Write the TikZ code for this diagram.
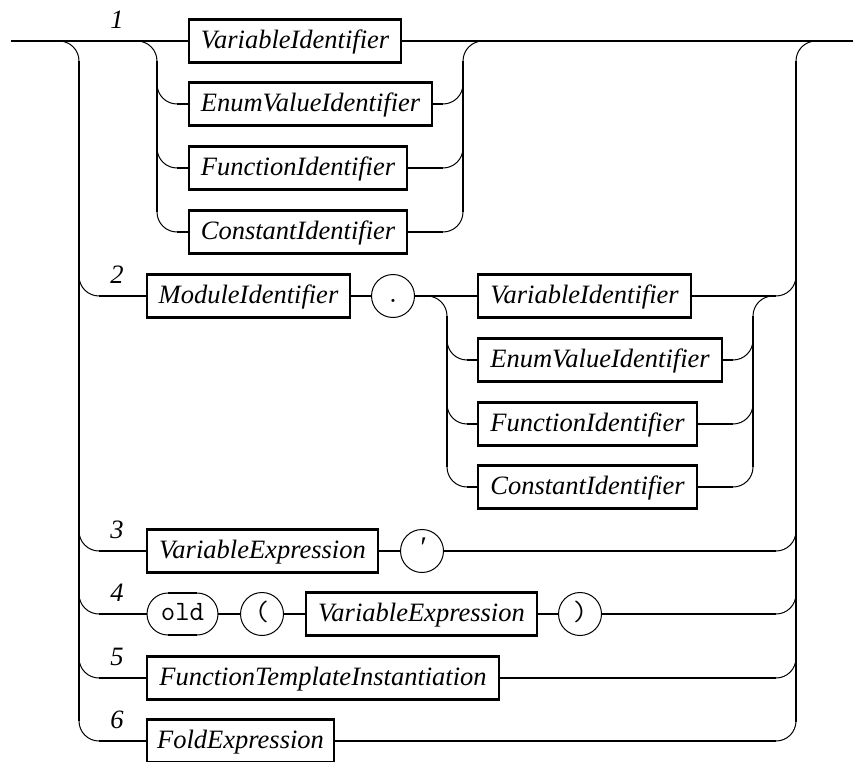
\documentclass[tikz,border=0pt]{standalone}
\usepackage{fontspec}
\setmainfont{Liberation Serif}
\begin{document}
\begin{tikzpicture}[x=1pt,y=-1pt,
  rail/.style={line width=2.4pt},
  railbend/.style={line width=1pt, rounded corners=20pt},
  nt/.style={draw, line width=2.4pt, minimum height=43pt, inner sep=0pt,
    text height=19pt, text depth=4pt,
    font=\fontsize{26.5}{30}\selectfont\itshape},
  term/.style={draw, circle, line width=1pt, minimum size=43pt, inner sep=0pt,
    text height=17pt, text depth=5pt,
    font=\fontsize{28}{30}\selectfont\ttfamily},
  altno/.style={font=\fontsize{26.5}{30}\selectfont\itshape}]
\useasboundingbox (0,0) rectangle (853,762);

% ---------- nodes ----------
% alternative 1
\node[nt, minimum width=212pt] (v1) at (295,41)    {VariableIdentifier};
\node[nt, minimum width=243pt] (e1) at (310.5,104) {EnumValueIdentifier};
\node[nt, minimum width=218pt] (f1) at (298,168)   {FunctionIdentifier};
\node[nt, minimum width=218pt] (c1) at (298,232)   {ConstantIdentifier};
% alternative 2
\node[nt, minimum width=203pt] (mod) at (248.5,296) {ModuleIdentifier};
\node[term] (dot) at (393,296) {.};
\node[nt, minimum width=213pt] (v2) at (584.5,296) {VariableIdentifier};
\node[nt, minimum width=244pt] (e2) at (600,360)   {EnumValueIdentifier};
\node[nt, minimum width=219pt] (f2) at (587.5,424) {FunctionIdentifier};
\node[nt, minimum width=219pt] (c2) at (587.5,487) {ConstantIdentifier};
% alternative 3
\node[nt, minimum width=231pt] (ve3) at (262.5,551) {VariableExpression};
\node[term, font=\fontsize{30}{30}\selectfont\itshape] (prime) at (422,551) {′};
% alternative 4
\node[draw, line width=1pt, rounded corners=21pt, minimum width=71pt, minimum height=42pt,
  inner sep=0pt, outer sep=0pt, text height=17pt, text depth=5pt,
  font=\fontsize{28}{30}\selectfont\ttfamily] (old) at (182.5,614) {old};
\draw[line width=2.4pt] ([xshift=21pt]old.north west) -- ([xshift=-21pt]old.north east);
\draw[line width=2.4pt] ([xshift=21pt]old.south west) -- ([xshift=-21pt]old.south east);
\node[term] (lp) at (262,614) {(};
\node[nt, minimum width=231pt] (ve4) at (421.5,614) {VariableExpression};
\node[term] (rp) at (580,614) {)};
% alternative 5
\node[nt, minimum width=352pt] (fti) at (323,678) {FunctionTemplateInstantiation};
% alternative 6
\node[nt, minimum width=187pt] (fold) at (240.5,741) {FoldExpression};

% alternative numbers
\node[altno] (n1) at (117,20)  {1};
\node[altno] (n2) at (117,275) {2};
\node[altno] (n3) at (117,530) {3};
\node[altno] (n4) at (117,593) {4};
\node[altno] (n5) at (117,657) {5};
\node[altno] (n6) at (117,720) {6};

% ---------- main line ----------
\coordinate (in)  at (11,41);
\coordinate (out) at (853,41);
\draw[rail] (in) -- (v1.west);
\draw[rail] (v1.east) -- (out);

% outer buses
\draw[railbend] (59,41) -| (79,61);
\draw[rail] (79,61) -- (79,721);
\draw[railbend] (796,61) |- (816,41);
\draw[rail] (796,61) -- (796,722);

% ---------- alternative 1: inner choice ----------
\draw[railbend] (137,41) -| (157,61);
\draw[rail] (157,61) -- (157,212);
\draw[railbend] (463,61) |- (483,41);
\draw[rail] (463,61) -- (463,212);
\foreach \b/\y in {e1/104, f1/168, c1/232}{
  \draw[railbend] (157,\y-20) |- (177,\y);
  \draw[rail] (177,\y) -- (\b.west);
  \draw[rail] (\b.east) -- (443,\y);
  \draw[railbend] (443,\y) -| (463,\y-20);
}

% ---------- alternatives 2..6: entry and exit ----------
\foreach \first/\last/\y in {mod/v2/296, ve3/prime/551, old/rp/614, fti/fti/678, fold/fold/741}{
  \draw[railbend] (79,\y-20) |- (99,\y);
  \draw[rail] (99,\y) -- (\first.west);
  \draw[rail] (\last.east) -- (776,\y);
  \draw[railbend] (776,\y) -| (796,\y-20);
}

% alternative 2 sequence
\draw[rail] (mod.east) -- (dot.west);
\draw[rail] (dot.east) -- (v2.west);
\draw[railbend] (427,296) -| (447,316);
\draw[rail] (447,316) -- (447,467);
\draw[railbend] (753,316) |- (773,296);
\draw[rail] (753,316) -- (753,467);
\foreach \b/\y in {e2/360, f2/424, c2/487}{
  \draw[railbend] (447,\y-20) |- (467,\y);
  \draw[rail] (467,\y) -- (\b.west);
  \draw[rail] (\b.east) -- (733,\y);
  \draw[railbend] (733,\y) -| (753,\y-20);
}

% alternative 3 sequence
\draw[rail] (ve3.east) -- (prime.west);

% alternative 4 sequence
\draw[rail] (old.east) -- (lp.west);
\draw[rail] (lp.east) -- (ve4.west);
\draw[rail] (ve4.east) -- (rp.west);
\end{tikzpicture}
\end{document}
